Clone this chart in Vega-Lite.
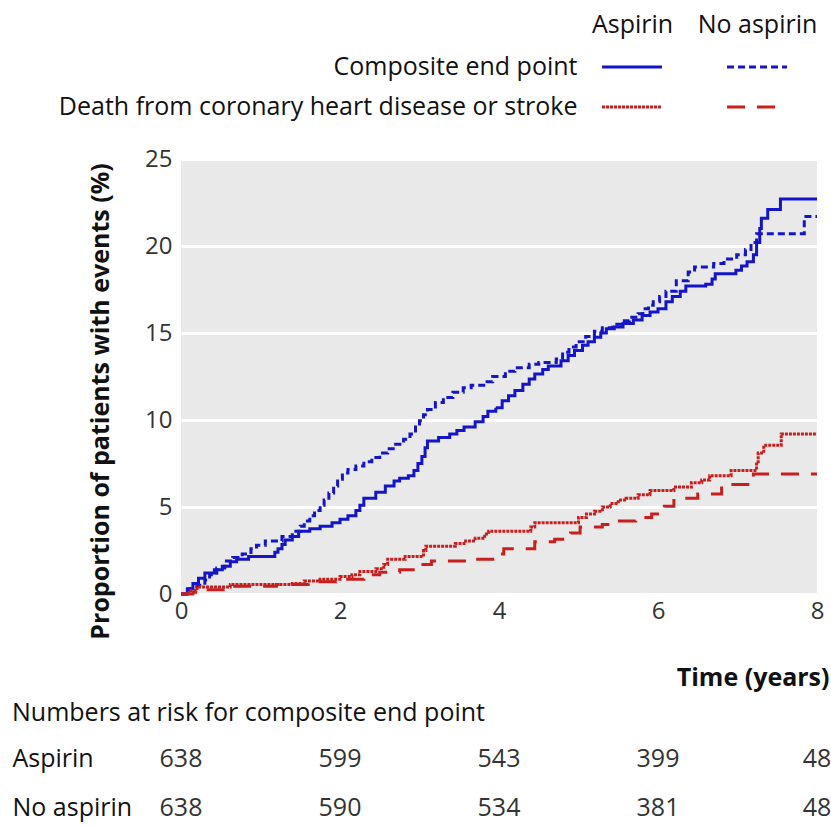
{
  "$schema": "https://vega.github.io/schema/vega-lite/v6.json",
  "background": "white",
  "padding": {"left": 12, "top": 12, "right": 0, "bottom": 0},
  "spacing": 11,
  "config": {
    "font": "Open Sans",
    "view": {"stroke": null},
    "axis": {"labelFont": "Open Sans", "titleFont": "Open Sans"},
    "title": {"font": "Open Sans"}
  },
  "datasets": {
    "legend": [
      {"endpoint": "Composite end point", "arm": "Aspirin", "curve": "Composite/Aspirin"},
      {"endpoint": "Composite end point", "arm": "No aspirin", "curve": "Composite/No aspirin"},
      {"endpoint": "Death from coronary heart disease or stroke", "arm": "Aspirin", "curve": "Death/Aspirin"},
      {"endpoint": "Death from coronary heart disease or stroke", "arm": "No aspirin", "curve": "Death/No aspirin"}
    ],
    "risk": [
      {"arm": "Aspirin", "t": 0, "n": 638},
      {"arm": "Aspirin", "t": 2, "n": 599},
      {"arm": "Aspirin", "t": 4, "n": 543},
      {"arm": "Aspirin", "t": 6, "n": 399},
      {"arm": "Aspirin", "t": 8, "n": 48},
      {"arm": "No aspirin", "t": 0, "n": 638},
      {"arm": "No aspirin", "t": 2, "n": 590},
      {"arm": "No aspirin", "t": 4, "n": 534},
      {"arm": "No aspirin", "t": 6, "n": 381},
      {"arm": "No aspirin", "t": 8, "n": 48}
    ],
    "km": [
      {"curve": "Composite/Aspirin", "t": 0, "p": 0},
      {"curve": "Composite/Aspirin", "t": 0.08, "p": 0.3},
      {"curve": "Composite/Aspirin", "t": 0.15, "p": 0.6},
      {"curve": "Composite/Aspirin", "t": 0.22, "p": 0.9},
      {"curve": "Composite/Aspirin", "t": 0.3, "p": 1.2},
      {"curve": "Composite/Aspirin", "t": 0.42, "p": 1.4},
      {"curve": "Composite/Aspirin", "t": 0.52, "p": 1.6},
      {"curve": "Composite/Aspirin", "t": 0.62, "p": 1.85},
      {"curve": "Composite/Aspirin", "t": 0.7, "p": 2.0},
      {"curve": "Composite/Aspirin", "t": 0.85, "p": 2.15},
      {"curve": "Composite/Aspirin", "t": 1.18, "p": 2.4},
      {"curve": "Composite/Aspirin", "t": 1.22, "p": 2.6},
      {"curve": "Composite/Aspirin", "t": 1.27, "p": 2.85},
      {"curve": "Composite/Aspirin", "t": 1.31, "p": 3.1},
      {"curve": "Composite/Aspirin", "t": 1.4, "p": 3.3},
      {"curve": "Composite/Aspirin", "t": 1.48, "p": 3.6},
      {"curve": "Composite/Aspirin", "t": 1.62, "p": 3.75},
      {"curve": "Composite/Aspirin", "t": 1.75, "p": 3.9},
      {"curve": "Composite/Aspirin", "t": 1.9, "p": 4.1},
      {"curve": "Composite/Aspirin", "t": 2.0, "p": 4.3},
      {"curve": "Composite/Aspirin", "t": 2.1, "p": 4.5},
      {"curve": "Composite/Aspirin", "t": 2.2, "p": 4.8},
      {"curve": "Composite/Aspirin", "t": 2.25, "p": 5.1},
      {"curve": "Composite/Aspirin", "t": 2.3, "p": 5.5},
      {"curve": "Composite/Aspirin", "t": 2.45, "p": 5.85},
      {"curve": "Composite/Aspirin", "t": 2.57, "p": 6.2},
      {"curve": "Composite/Aspirin", "t": 2.68, "p": 6.5},
      {"curve": "Composite/Aspirin", "t": 2.75, "p": 6.65},
      {"curve": "Composite/Aspirin", "t": 2.86, "p": 6.8},
      {"curve": "Composite/Aspirin", "t": 2.93, "p": 7.1},
      {"curve": "Composite/Aspirin", "t": 2.98, "p": 7.5},
      {"curve": "Composite/Aspirin", "t": 3.03, "p": 7.9},
      {"curve": "Composite/Aspirin", "t": 3.07, "p": 8.4},
      {"curve": "Composite/Aspirin", "t": 3.1, "p": 8.8},
      {"curve": "Composite/Aspirin", "t": 3.24, "p": 9.0},
      {"curve": "Composite/Aspirin", "t": 3.38, "p": 9.2},
      {"curve": "Composite/Aspirin", "t": 3.47, "p": 9.4},
      {"curve": "Composite/Aspirin", "t": 3.56, "p": 9.6},
      {"curve": "Composite/Aspirin", "t": 3.7, "p": 9.9},
      {"curve": "Composite/Aspirin", "t": 3.8, "p": 10.2},
      {"curve": "Composite/Aspirin", "t": 3.86, "p": 10.5},
      {"curve": "Composite/Aspirin", "t": 3.96, "p": 10.7},
      {"curve": "Composite/Aspirin", "t": 4.04, "p": 11.1},
      {"curve": "Composite/Aspirin", "t": 4.12, "p": 11.4},
      {"curve": "Composite/Aspirin", "t": 4.2, "p": 11.7},
      {"curve": "Composite/Aspirin", "t": 4.3, "p": 12.05},
      {"curve": "Composite/Aspirin", "t": 4.38, "p": 12.35},
      {"curve": "Composite/Aspirin", "t": 4.45, "p": 12.65},
      {"curve": "Composite/Aspirin", "t": 4.55, "p": 12.9},
      {"curve": "Composite/Aspirin", "t": 4.62, "p": 13.1},
      {"curve": "Composite/Aspirin", "t": 4.78, "p": 13.4},
      {"curve": "Composite/Aspirin", "t": 4.87, "p": 13.7},
      {"curve": "Composite/Aspirin", "t": 4.95, "p": 14.0},
      {"curve": "Composite/Aspirin", "t": 5.05, "p": 14.3},
      {"curve": "Composite/Aspirin", "t": 5.12, "p": 14.5},
      {"curve": "Composite/Aspirin", "t": 5.2, "p": 14.75},
      {"curve": "Composite/Aspirin", "t": 5.28, "p": 15.0},
      {"curve": "Composite/Aspirin", "t": 5.35, "p": 15.25},
      {"curve": "Composite/Aspirin", "t": 5.45, "p": 15.35},
      {"curve": "Composite/Aspirin", "t": 5.56, "p": 15.55},
      {"curve": "Composite/Aspirin", "t": 5.69, "p": 15.75},
      {"curve": "Composite/Aspirin", "t": 5.8, "p": 16.0},
      {"curve": "Composite/Aspirin", "t": 5.9, "p": 16.2},
      {"curve": "Composite/Aspirin", "t": 6.0, "p": 16.4},
      {"curve": "Composite/Aspirin", "t": 6.1, "p": 16.8},
      {"curve": "Composite/Aspirin", "t": 6.18, "p": 17.1},
      {"curve": "Composite/Aspirin", "t": 6.28, "p": 17.4},
      {"curve": "Composite/Aspirin", "t": 6.35, "p": 17.7},
      {"curve": "Composite/Aspirin", "t": 6.6, "p": 17.8},
      {"curve": "Composite/Aspirin", "t": 6.68, "p": 18.1},
      {"curve": "Composite/Aspirin", "t": 6.72, "p": 18.4},
      {"curve": "Composite/Aspirin", "t": 6.98, "p": 18.6},
      {"curve": "Composite/Aspirin", "t": 7.05, "p": 18.85},
      {"curve": "Composite/Aspirin", "t": 7.12, "p": 19.1},
      {"curve": "Composite/Aspirin", "t": 7.2, "p": 19.5},
      {"curve": "Composite/Aspirin", "t": 7.24, "p": 20.2},
      {"curve": "Composite/Aspirin", "t": 7.28, "p": 21.0},
      {"curve": "Composite/Aspirin", "t": 7.3, "p": 21.6},
      {"curve": "Composite/Aspirin", "t": 7.38, "p": 22.1},
      {"curve": "Composite/Aspirin", "t": 7.54, "p": 22.7},
      {"curve": "Composite/Aspirin", "t": 8.0, "p": 22.7},

      {"curve": "Composite/No aspirin", "t": 0, "p": 0},
      {"curve": "Composite/No aspirin", "t": 0.1, "p": 0.3},
      {"curve": "Composite/No aspirin", "t": 0.2, "p": 0.5},
      {"curve": "Composite/No aspirin", "t": 0.3, "p": 0.8},
      {"curve": "Composite/No aspirin", "t": 0.36, "p": 1.1},
      {"curve": "Composite/No aspirin", "t": 0.45, "p": 1.5},
      {"curve": "Composite/No aspirin", "t": 0.55, "p": 1.9},
      {"curve": "Composite/No aspirin", "t": 0.65, "p": 2.1},
      {"curve": "Composite/No aspirin", "t": 0.77, "p": 2.3},
      {"curve": "Composite/No aspirin", "t": 0.88, "p": 2.6},
      {"curve": "Composite/No aspirin", "t": 0.95, "p": 2.8},
      {"curve": "Composite/No aspirin", "t": 1.06, "p": 3.05},
      {"curve": "Composite/No aspirin", "t": 1.27, "p": 3.3},
      {"curve": "Composite/No aspirin", "t": 1.4, "p": 3.6},
      {"curve": "Composite/No aspirin", "t": 1.5, "p": 3.9},
      {"curve": "Composite/No aspirin", "t": 1.55, "p": 4.2},
      {"curve": "Composite/No aspirin", "t": 1.62, "p": 4.5},
      {"curve": "Composite/No aspirin", "t": 1.68, "p": 4.8},
      {"curve": "Composite/No aspirin", "t": 1.75, "p": 5.1},
      {"curve": "Composite/No aspirin", "t": 1.8, "p": 5.4},
      {"curve": "Composite/No aspirin", "t": 1.86, "p": 5.8},
      {"curve": "Composite/No aspirin", "t": 1.92, "p": 6.2},
      {"curve": "Composite/No aspirin", "t": 1.97, "p": 6.6},
      {"curve": "Composite/No aspirin", "t": 2.03, "p": 6.95},
      {"curve": "Composite/No aspirin", "t": 2.1, "p": 7.15},
      {"curve": "Composite/No aspirin", "t": 2.2, "p": 7.35},
      {"curve": "Composite/No aspirin", "t": 2.3, "p": 7.6},
      {"curve": "Composite/No aspirin", "t": 2.4, "p": 7.85},
      {"curve": "Composite/No aspirin", "t": 2.5, "p": 8.1},
      {"curve": "Composite/No aspirin", "t": 2.6, "p": 8.35},
      {"curve": "Composite/No aspirin", "t": 2.7, "p": 8.6},
      {"curve": "Composite/No aspirin", "t": 2.8, "p": 8.9},
      {"curve": "Composite/No aspirin", "t": 2.88, "p": 9.2},
      {"curve": "Composite/No aspirin", "t": 2.95, "p": 9.6},
      {"curve": "Composite/No aspirin", "t": 3.0, "p": 9.95},
      {"curve": "Composite/No aspirin", "t": 3.05, "p": 10.3},
      {"curve": "Composite/No aspirin", "t": 3.1, "p": 10.6},
      {"curve": "Composite/No aspirin", "t": 3.2, "p": 11.0},
      {"curve": "Composite/No aspirin", "t": 3.3, "p": 11.3},
      {"curve": "Composite/No aspirin", "t": 3.42, "p": 11.6},
      {"curve": "Composite/No aspirin", "t": 3.55, "p": 11.85},
      {"curve": "Composite/No aspirin", "t": 3.65, "p": 12.0},
      {"curve": "Composite/No aspirin", "t": 3.85, "p": 12.2},
      {"curve": "Composite/No aspirin", "t": 3.92, "p": 12.5},
      {"curve": "Composite/No aspirin", "t": 4.08, "p": 12.8},
      {"curve": "Composite/No aspirin", "t": 4.2, "p": 13.0},
      {"curve": "Composite/No aspirin", "t": 4.38, "p": 13.2},
      {"curve": "Composite/No aspirin", "t": 4.5, "p": 13.3},
      {"curve": "Composite/No aspirin", "t": 4.72, "p": 13.5},
      {"curve": "Composite/No aspirin", "t": 4.8, "p": 13.9},
      {"curve": "Composite/No aspirin", "t": 4.88, "p": 14.2},
      {"curve": "Composite/No aspirin", "t": 4.97, "p": 14.5},
      {"curve": "Composite/No aspirin", "t": 5.09, "p": 14.8},
      {"curve": "Composite/No aspirin", "t": 5.2, "p": 15.1},
      {"curve": "Composite/No aspirin", "t": 5.3, "p": 15.3},
      {"curve": "Composite/No aspirin", "t": 5.43, "p": 15.5},
      {"curve": "Composite/No aspirin", "t": 5.55, "p": 15.7},
      {"curve": "Composite/No aspirin", "t": 5.64, "p": 15.9},
      {"curve": "Composite/No aspirin", "t": 5.75, "p": 16.1},
      {"curve": "Composite/No aspirin", "t": 5.81, "p": 16.4},
      {"curve": "Composite/No aspirin", "t": 5.88, "p": 16.6},
      {"curve": "Composite/No aspirin", "t": 5.94, "p": 16.8},
      {"curve": "Composite/No aspirin", "t": 6.02, "p": 17.1},
      {"curve": "Composite/No aspirin", "t": 6.1, "p": 17.4},
      {"curve": "Composite/No aspirin", "t": 6.23, "p": 18.0},
      {"curve": "Composite/No aspirin", "t": 6.38, "p": 18.5},
      {"curve": "Composite/No aspirin", "t": 6.46, "p": 18.8},
      {"curve": "Composite/No aspirin", "t": 6.7, "p": 19.0},
      {"curve": "Composite/No aspirin", "t": 6.83, "p": 19.25},
      {"curve": "Composite/No aspirin", "t": 6.99, "p": 19.5},
      {"curve": "Composite/No aspirin", "t": 7.1, "p": 19.8},
      {"curve": "Composite/No aspirin", "t": 7.17, "p": 20.2},
      {"curve": "Composite/No aspirin", "t": 7.24, "p": 20.7},
      {"curve": "Composite/No aspirin", "t": 7.84, "p": 21.7},
      {"curve": "Composite/No aspirin", "t": 8.0, "p": 21.7},

      {"curve": "Death/Aspirin", "t": 0, "p": 0},
      {"curve": "Death/Aspirin", "t": 0.1, "p": 0.2},
      {"curve": "Death/Aspirin", "t": 0.2, "p": 0.4},
      {"curve": "Death/Aspirin", "t": 0.62, "p": 0.55},
      {"curve": "Death/Aspirin", "t": 1.4, "p": 0.6},
      {"curve": "Death/Aspirin", "t": 1.55, "p": 0.75},
      {"curve": "Death/Aspirin", "t": 1.75, "p": 0.85},
      {"curve": "Death/Aspirin", "t": 2.0, "p": 1.0},
      {"curve": "Death/Aspirin", "t": 2.15, "p": 1.1},
      {"curve": "Death/Aspirin", "t": 2.25, "p": 1.3},
      {"curve": "Death/Aspirin", "t": 2.45, "p": 1.45},
      {"curve": "Death/Aspirin", "t": 2.55, "p": 1.7},
      {"curve": "Death/Aspirin", "t": 2.6, "p": 2.0},
      {"curve": "Death/Aspirin", "t": 2.82, "p": 2.15},
      {"curve": "Death/Aspirin", "t": 3.05, "p": 2.5},
      {"curve": "Death/Aspirin", "t": 3.08, "p": 2.75},
      {"curve": "Death/Aspirin", "t": 3.45, "p": 2.9},
      {"curve": "Death/Aspirin", "t": 3.58, "p": 3.05},
      {"curve": "Death/Aspirin", "t": 3.7, "p": 3.2},
      {"curve": "Death/Aspirin", "t": 3.82, "p": 3.45},
      {"curve": "Death/Aspirin", "t": 3.87, "p": 3.6},
      {"curve": "Death/Aspirin", "t": 4.4, "p": 3.85},
      {"curve": "Death/Aspirin", "t": 4.45, "p": 4.1},
      {"curve": "Death/Aspirin", "t": 5.0, "p": 4.4},
      {"curve": "Death/Aspirin", "t": 5.1, "p": 4.6},
      {"curve": "Death/Aspirin", "t": 5.2, "p": 4.75},
      {"curve": "Death/Aspirin", "t": 5.3, "p": 5.0},
      {"curve": "Death/Aspirin", "t": 5.4, "p": 5.2},
      {"curve": "Death/Aspirin", "t": 5.5, "p": 5.4},
      {"curve": "Death/Aspirin", "t": 5.6, "p": 5.5},
      {"curve": "Death/Aspirin", "t": 5.75, "p": 5.7},
      {"curve": "Death/Aspirin", "t": 5.9, "p": 5.95},
      {"curve": "Death/Aspirin", "t": 6.2, "p": 6.15},
      {"curve": "Death/Aspirin", "t": 6.42, "p": 6.4},
      {"curve": "Death/Aspirin", "t": 6.55, "p": 6.55},
      {"curve": "Death/Aspirin", "t": 6.65, "p": 6.8},
      {"curve": "Death/Aspirin", "t": 6.92, "p": 7.1},
      {"curve": "Death/Aspirin", "t": 7.24, "p": 7.6},
      {"curve": "Death/Aspirin", "t": 7.26, "p": 8.1},
      {"curve": "Death/Aspirin", "t": 7.33, "p": 8.55},
      {"curve": "Death/Aspirin", "t": 7.55, "p": 9.2},
      {"curve": "Death/Aspirin", "t": 8.0, "p": 9.2},

      {"curve": "Death/No aspirin", "t": 0, "p": 0},
      {"curve": "Death/No aspirin", "t": 0.15, "p": 0.1},
      {"curve": "Death/No aspirin", "t": 0.3, "p": 0.25},
      {"curve": "Death/No aspirin", "t": 0.6, "p": 0.45},
      {"curve": "Death/No aspirin", "t": 1.2, "p": 0.55},
      {"curve": "Death/No aspirin", "t": 1.6, "p": 0.7},
      {"curve": "Death/No aspirin", "t": 2.0, "p": 0.85},
      {"curve": "Death/No aspirin", "t": 2.3, "p": 1.1},
      {"curve": "Death/No aspirin", "t": 2.5, "p": 1.25},
      {"curve": "Death/No aspirin", "t": 2.75, "p": 1.4},
      {"curve": "Death/No aspirin", "t": 3.0, "p": 1.7},
      {"curve": "Death/No aspirin", "t": 3.15, "p": 1.9},
      {"curve": "Death/No aspirin", "t": 3.6, "p": 2.0},
      {"curve": "Death/No aspirin", "t": 3.95, "p": 2.3},
      {"curve": "Death/No aspirin", "t": 4.06, "p": 2.6},
      {"curve": "Death/No aspirin", "t": 4.45, "p": 3.0},
      {"curve": "Death/No aspirin", "t": 4.7, "p": 3.15},
      {"curve": "Death/No aspirin", "t": 4.9, "p": 3.5},
      {"curve": "Death/No aspirin", "t": 5.02, "p": 3.85},
      {"curve": "Death/No aspirin", "t": 5.3, "p": 4.0},
      {"curve": "Death/No aspirin", "t": 5.48, "p": 4.2},
      {"curve": "Death/No aspirin", "t": 5.72, "p": 4.4},
      {"curve": "Death/No aspirin", "t": 5.92, "p": 4.6},
      {"curve": "Death/No aspirin", "t": 6.08, "p": 5.05},
      {"curve": "Death/No aspirin", "t": 6.2, "p": 5.5},
      {"curve": "Death/No aspirin", "t": 6.5, "p": 5.75},
      {"curve": "Death/No aspirin", "t": 6.8, "p": 6.3},
      {"curve": "Death/No aspirin", "t": 7.2, "p": 6.9},
      {"curve": "Death/No aspirin", "t": 8.0, "p": 6.9}
    ]
  },
  "vconcat": [
    {
      "width": 636,
      "height": 89,
      "data": {"name": "legend"},
      "mark": {"type": "rule", "strokeWidth": 3, "xOffset": -30, "x2Offset": 30},
      "encoding": {
        "x": {
          "field": "arm", "type": "nominal",
          "scale": {"type": "point", "domain": ["_1", "_2", "_3", "Aspirin", "No aspirin"], "padding": 0.544, "align": 0.559},
          "axis": {"orient": "top", "values": ["Aspirin", "No aspirin"], "title": null, "domain": false, "ticks": false, "tickSize": 0, "labelAngle": 0, "labelFontSize": 25, "labelColor": "#111", "labelPadding": 10, "labelLimit": 0}
        },
        "x2": {"field": "arm"},
        "y": {
          "field": "endpoint", "type": "nominal",
          "scale": {"type": "point", "domain": ["Composite end point", "Death from coronary heart disease or stroke"], "padding": 0.6125, "align": 0.408},
          "axis": {"title": null, "domain": false, "ticks": false, "tickSize": 0, "labelAlign": "right", "labelPadding": -396, "labelFontSize": 25, "labelColor": "#111", "labelLimit": 0}
        },
        "color": {
          "field": "curve", "type": "nominal", "legend": null,
          "scale": {"domain": ["Composite/Aspirin", "Composite/No aspirin", "Death/Aspirin", "Death/No aspirin"], "range": ["#1414c8", "#1414c8", "#c81e1e", "#c81e1e"]}
        },
        "strokeDash": {
          "field": "curve", "type": "nominal", "legend": null,
          "scale": {"domain": ["Composite/Aspirin", "Composite/No aspirin", "Death/Aspirin", "Death/No aspirin"], "range": [[1, 0], [7, 4], [3, 1], [18, 12]]}
        }
      }
    },
    {
      "width": 636,
      "height": 435,
      "view": {"fill": "#e9e9e9", "stroke": null},
      "data": {"name": "km"},
      "mark": {"type": "line", "interpolate": "step-after", "strokeWidth": 3},
      "encoding": {
        "x": {
          "field": "t", "type": "quantitative",
          "scale": {"domain": [0, 8], "nice": false, "zero": false},
          "axis": {"values": [0, 2, 4, 6, 8], "grid": false, "domain": false, "ticks": false, "tickSize": 0, "labelFontSize": 24, "labelColor": "#333", "labelPadding": 5, "labelFlush": false,
            "title": "Time (years)", "titleFontSize": 25, "titleFontWeight": "bold", "titleColor": "#111", "titleAnchor": "end", "titleAlign": "right", "titleX": 648, "titleY": 83, "titleBaseline": "middle"}
        },
        "y": {
          "field": "p", "type": "quantitative",
          "scale": {"domain": [0, 25], "nice": false},
          "axis": {"values": [0, 5, 10, 15, 20, 25], "grid": true, "gridColor": "white", "gridWidth": 3, "domain": false, "ticks": false, "tickSize": 0, "labelFontSize": 24, "labelColor": "#333", "labelPadding": 9,
            "title": "Proportion of patients with events (%)", "titleFontSize": 25, "titleFontWeight": "bold", "titleColor": "#111", "titleX": -81, "titleY": 242, "titleBaseline": "middle", "titleAlign": "center", "titleAngle": 270, "titleLimit": 0}
        },
        "color": {
          "field": "curve", "type": "nominal", "legend": null,
          "scale": {"domain": ["Composite/Aspirin", "Composite/No aspirin", "Death/Aspirin", "Death/No aspirin"], "range": ["#1414c8", "#1414c8", "#c81e1e", "#c81e1e"]}
        },
        "strokeDash": {
          "field": "curve", "type": "nominal", "legend": null,
          "scale": {"domain": ["Composite/Aspirin", "Composite/No aspirin", "Death/Aspirin", "Death/No aspirin"], "range": [[1, 0], [7, 4], [3, 1], [18, 12]]}
        }
      }
    },
    {
      "width": 636,
      "height": 98,
      "title": {"text": "Numbers at risk for composite end point", "anchor": "start", "frame": "group", "dx": -169, "fontSize": 25, "fontWeight": "normal", "color": "#111", "offset": 8},
      "data": {"name": "risk"},
      "mark": {"type": "text", "fontSize": 25, "color": "#333"},
      "encoding": {
        "x": {"field": "t", "type": "quantitative", "scale": {"domain": [0, 8], "nice": false}, "axis": null},
        "y": {
          "field": "arm", "type": "nominal",
          "scale": {"domain": ["Aspirin", "No aspirin"], "paddingInner": 0, "paddingOuter": 0},
          "axis": {"title": null, "domain": false, "ticks": false, "tickSize": 0, "labelAlign": "left", "labelPadding": 169, "labelFontSize": 25, "labelColor": "#111"}
        },
        "text": {"field": "n", "type": "quantitative"}
      }
    }
  ]
}
